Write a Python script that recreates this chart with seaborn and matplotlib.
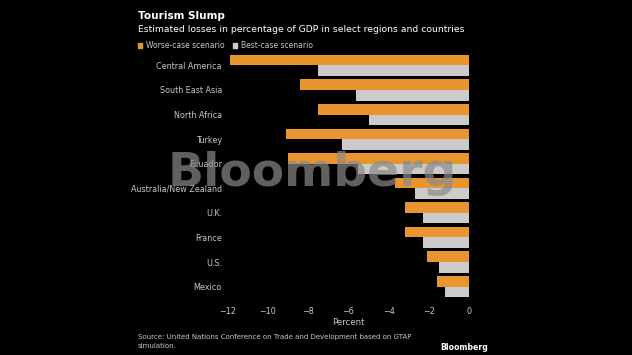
import pandas as pd
import matplotlib.pyplot as plt
import seaborn as sns

regions = ['Central America', 'South East Asia', 'North Africa', 'Turkey', 'Ecuador',
           'Australia/New Zealand', 'U.K.', 'France', 'U.S.', 'Mexico']
worse_case = [-11.9, -8.4, -7.5, -9.1, -9.0, -3.7, -3.2, -3.2, -2.1, -1.6]
best_case = [-7.5, -5.6, -5.0, -6.3, -5.5, -2.7, -2.3, -2.3, -1.5, -1.2]
scenarios = ['Worse-case scenario', 'Best-case scenario']

df = pd.DataFrame({
    'region': regions * 2,
    'value': worse_case + best_case,
    'scenario': [scenarios[0]] * len(regions) + [scenarios[1]] * len(regions),
})

sns.set_style('dark')
plt.rcParams['font.family'] = ['DejaVu Sans']
bg = 'black'
txt = '#C8C8C8'
colors = ['#E8952F', '#CBCBCB']

fig = plt.figure(figsize=(6.32, 3.55), dpi=100, facecolor=bg)
ax = fig.add_axes([0.360, 0.158, 0.3826, 0.6925])
ax.set_facecolor(bg)

sns.barplot(data=df, y='region', x='value', hue='scenario', orient='h',
            palette=colors, width=0.86, gap=0, linewidth=0, edgecolor='none',
            saturation=1, ax=ax, legend=False)

ax.set_xlim(-12, 0)
ax.set_xticks(range(-12, 1, 2))
ax.set_xlabel('Percent', color=txt, fontsize=6.2, labelpad=2)
ax.set_ylabel('')
ax.grid(False)
for s in ax.spines.values():
    s.set_visible(False)
ax.tick_params(axis='x', colors=txt, labelsize=5.8, length=3, width=0.6, pad=2.5)
ax.tick_params(axis='y', colors=txt, labelsize=5.8, length=0, pad=4)

# title block
fig.text(138 / 632, 1 - 16 / 355, 'Tourism Slump', color='white', fontsize=7.6,
         fontweight='bold', va='center', ha='left')
fig.text(138 / 632, 1 - 30 / 355,
         'Estimated losses in percentage of GDP in select regions and countries',
         color='white', fontsize=6.7, va='center', ha='left')

# legend
handles = [plt.Rectangle((0, 0), 1, 1, color=c) for c in colors]
fig.legend(handles, scenarios, loc='center left', bbox_to_anchor=(131 / 632, 1 - 46 / 355),
           ncol=2, frameon=False, fontsize=5.5, labelcolor=txt, handlelength=0.6,
           handleheight=0.6, handletextpad=0.5, columnspacing=1.0)

# watermark
fig.text(312 / 632, 1 - 174 / 355, 'Bloomberg', color='#8A8A8A', alpha=0.7,
         fontsize=34, fontweight='bold', ha='center', va='center')

# footer
fig.text(138 / 632, 1 - 337 / 355,
         'Source: United Nations Conference on Trade and Development based on GTAP',
         color=txt, fontsize=5, va='center', ha='left')
fig.text(138 / 632, 1 - 346 / 355, 'simulation.', color=txt, fontsize=5,
         va='center', ha='left')
fig.text(488 / 632, 1 - 348 / 355, 'Bloomberg', color='white', fontsize=5.6,
         fontweight='bold', va='center', ha='right')

fig.savefig('out.png', dpi=100, facecolor=bg)
